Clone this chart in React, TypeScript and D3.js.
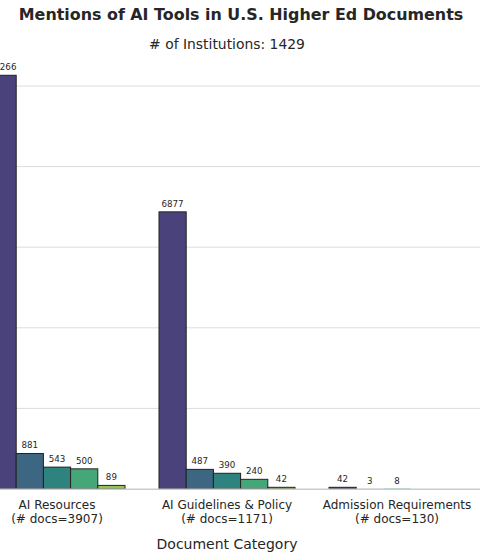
import { useEffect, useRef } from 'react';
import * as d3 from 'd3';

const categories = ['AI Resources', 'AI Guidelines & Policy', 'Admission Requirements'];
const docCounts = [3907, 1171, 130];
const tools = ['Tool 1', 'Tool 2', 'Tool 3', 'Tool 4', 'Tool 5'];
// mentions per category, one array per tool (null = no mentions reported)
const mentions: (number | null)[][] = [
  [10266, 6877, 42],
  [881, 487, 3],
  [543, 390, 8],
  [500, 240, null],
  [89, 42, null],
];
const yTicks = [2000, 4000, 6000, 8000, 10000];
const institutions = 1429;

const W = 480;
const H = 560;

export default function App() {
  const svgRef = useRef<SVGSVGElement>(null);

  useEffect(() => {
    if (!svgRef.current) return;
    const svg = d3.select(svgRef.current);
    svg.selectAll('*').remove();

    const font = 'DejaVu Sans, sans-serif';
    const ink = '#262626';

    const x0 = d3.scaleBand<string>()
      .domain(categories)
      .range([-28, 482])
      .paddingInner(0.2)
      .paddingOuter(0.1);
    const x1 = d3.scaleBand<string>()
      .domain(tools)
      .range([0, x0.bandwidth()]);
    const y = d3.scaleLinear().domain([0, 10000]).range([489, 86]);

    // desaturated viridis, like seaborn's default bar colours
    const color = d3.scaleOrdinal<string, string>()
      .domain(tools)
      .range(tools.map((_, i) => {
        const c = d3.hsl(d3.interpolateViridis((i + 1) / (tools.length + 1)));
        c.s *= 0.75;
        return c.formatHex();
      }));

    // grid
    svg.append('g')
      .selectAll('line')
      .data(yTicks)
      .join('line')
      .attr('x1', 0).attr('x2', W)
      .attr('y1', d => y(d)).attr('y2', d => y(d))
      .attr('stroke', '#dcdcdc')
      .attr('stroke-width', 1);

    // bars
    tools.forEach((tool, ti) => {
      const g = svg.append('g');
      categories.forEach((cat, ci) => {
        const v = mentions[ti][ci];
        if (v == null) return;
        const bx = (x0(cat) ?? 0) + (x1(tool) ?? 0);
        const h = y(0) - y(v);
        g.append('rect')
          .attr('x', bx)
          .attr('y', y(v))
          .attr('width', x1.bandwidth())
          .attr('height', h)
          .attr('fill', color(tool))
          .attr('stroke', h < 1 ? 'none' : '#222')
          .attr('stroke-width', 1);
        g.append('text')
          .attr('x', bx + x1.bandwidth() / 2)
          .attr('y', y(v) - 5)
          .attr('text-anchor', 'middle')
          .attr('font-family', font)
          .attr('font-size', 8.7)
          .attr('fill', ink)
          .text(v);
      });
    });

    // baseline drawn over the bar bottoms
    svg.append('line')
      .attr('x1', 0).attr('x2', W)
      .attr('y1', y(0) + 0.3).attr('y2', y(0) + 0.3)
      .attr('stroke', '#cccccc')
      .attr('stroke-width', 1.6);

    // category labels
    const tick = svg.append('g')
      .selectAll('text')
      .data(categories)
      .join('text')
      .attr('text-anchor', 'middle')
      .attr('font-family', font)
      .attr('font-size', 12)
      .attr('fill', ink);
    tick.append('tspan')
      .attr('x', d => (x0(d) ?? 0) + x0.bandwidth() / 2)
      .attr('y', 509)
      .text(d => d);
    tick.append('tspan')
      .attr('x', d => (x0(d) ?? 0) + x0.bandwidth() / 2)
      .attr('y', 522.5)
      .text((_, i) => `(# docs=${docCounts[i]})`);

    const mid = (x0.range()[0] + x0.range()[1]) / 2;

    svg.append('text')
      .attr('x', mid).attr('y', 549)
      .attr('text-anchor', 'middle')
      .attr('font-family', font)
      .attr('font-size', 14)
      .attr('fill', ink)
      .text('Document Category');

    svg.append('text')
      .attr('x', mid).attr('y', 49)
      .attr('text-anchor', 'middle')
      .attr('font-family', font)
      .attr('font-size', 13.9)
      .attr('fill', ink)
      .text(`# of Institutions: ${institutions}`);

    svg.append('text')
      .attr('x', 241).attr('y', 20)
      .attr('text-anchor', 'middle')
      .attr('font-family', font)
      .attr('font-size', 15.9)
      .attr('font-weight', 'bold')
      .attr('fill', ink)
      .text('Mentions of AI Tools in U.S. Higher Ed Documents');
  }, []);

  return (
    <svg
      ref={svgRef}
      width={W}
      height={H}
      style={{ position: 'absolute', left: 0, top: 0, background: '#fff' }}
    />
  );
}
